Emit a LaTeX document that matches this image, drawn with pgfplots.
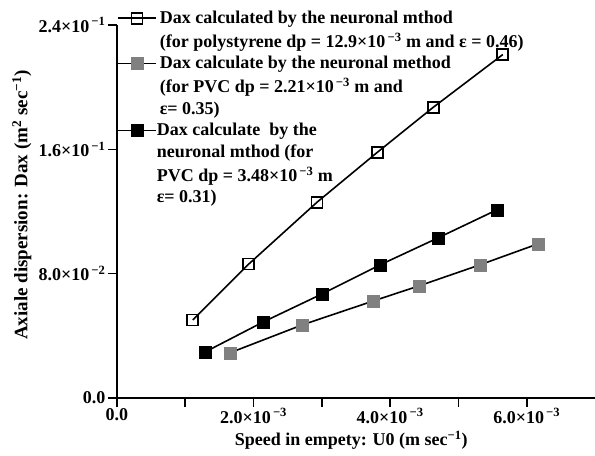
\documentclass[border=0pt]{standalone}
\usepackage{fontspec}
\setmainfont{Liberation Serif}
\usepackage{pgfplots}
\pgfplotsset{compat=1.18}
\newcommand\tenexp[1]{10\textsuperscript{\,−#1}}
\begin{document}
\begin{tikzpicture}
\begin{axis}[
  name=ax,
  scale only axis,
  width=478pt, height=373pt,
  xmin=0, xmax=0.007, ymin=0, ymax=0.24,
  axis x line*=bottom, axis y line*=left,
  axis line style={line width=1.6pt},
  every tick/.style={line width=1.6pt, black},
  tick align=outside,
  major tick length=9pt,
  font=\fontsize{18}{23}\selectfont\bfseries,
  xtick={0,0.001,0.002,0.003,0.004,0.005,0.006},
  xticklabels={0.0,,2.0×\tenexp{3},,4.0×\tenexp{3},,6.0×\tenexp{3}},
  ytick={0,0.08,0.16,0.24},
  yticklabels={0.0,8.0×\tenexp{2},1.6×\tenexp{1},2.4×\tenexp{1}},
  scaled ticks=false,
  xticklabel style={yshift=2pt},
  yticklabel style={xshift=1pt},
  xlabel={Speed in empety: U0 (m sec\textsuperscript{−1})},
  ylabel={Axiale dispersion: Dax (m\textsuperscript{2} sec\textsuperscript{−1})},
  every axis x label/.style={at={(axis description cs:0.49,0)}, anchor=center, yshift=-42pt},
  every axis y label/.style={at={(axis description cs:-0.199,0.517)}, rotate=90, anchor=center, font=\fontsize{19}{23}\selectfont\bfseries},
  legend image code/.code={\draw[mark repeat=2,mark phase=2,#1] plot coordinates {(0pt,0pt)(19pt,0pt)(38pt,0pt)};},
  legend style={draw=none, fill=none, at={(axis description cs:0,1)}, anchor=north west,
    yshift=14pt, inner sep=0pt, row sep=7.6pt, font=\fontsize{18}{23}\selectfont\bfseries,
    nodes={inner sep=0pt}},
  legend cell align=left,
  every axis plot/.append style={line width=1.6pt, black},
]
\addplot[mark=square, mark size=5.5pt, mark options={line width=1.8pt, fill=white}] coordinates {
(0.00111,0.0502) (0.00193,0.0862) (0.00293,0.126) (0.00381,0.158) (0.00463,0.187) (0.00565,0.221)};
\addlegendentry{\,Dax calculated by the neuronal mthod}
\addlegendimage{empty legend}
\addlegendentry{\,(for polystyrene dp = 12.9×\tenexp{3} m and ε = 0.46)}
\addplot[mark=square*, mark size=6pt, mark options={draw=gray, fill=gray, line width=0.1pt}] coordinates {
(0.00165,0.0290) (0.00271,0.0470) (0.00375,0.0624) (0.00442,0.0721) (0.00531,0.0856) (0.00616,0.0991)};
\addlegendentry{\,Dax calculate by the neuronal method}
\addlegendimage{empty legend}
\addlegendentry{\,(for PVC dp = 2.21×\tenexp{3} m and}
\addlegendimage{empty legend}
\addlegendentry{\,ε= 0.35)}
\addplot[mark=square*, mark size=6pt, mark options={draw=black, fill=black, line width=0.1pt}] coordinates {
(0.00129,0.0296) (0.00214,0.0489) (0.00300,0.0669) (0.00385,0.0856) (0.00470,0.103) (0.00556,0.121)};
\addlegendentry{Dax calculate\ \ by the}
\addlegendimage{empty legend}
\addlegendentry{neuronal mthod (for}
\addlegendimage{empty legend}
\addlegendentry{PVC dp = 3.48×\tenexp{3} m}
\addlegendimage{empty legend}
\addlegendentry{ε= 0.31)}
\end{axis}
\pgfresetboundingbox
\useasboundingbox ([xshift=-117pt,yshift=-57pt]ax.south west) rectangle ([yshift=25pt]ax.north east);
\end{tikzpicture}
\end{document}
